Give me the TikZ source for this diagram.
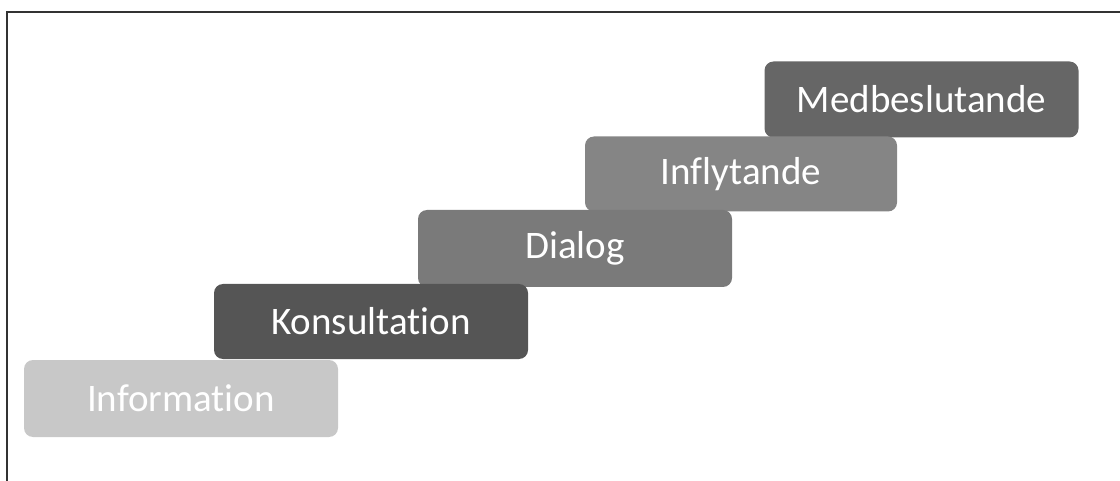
\documentclass[tikz,border=0pt]{standalone}
\usepackage{fontspec}
\setmainfont[Ligatures={NoCommon}]{Carlito}
\definecolor{cinfo}{HTML}{C8C8C8}
\definecolor{ckons}{HTML}{555555}
\definecolor{cdial}{HTML}{7A7A7A}
\definecolor{cinfl}{HTML}{858585}
\definecolor{cmedb}{HTML}{666666}
\definecolor{frame}{HTML}{333333}
\begin{document}
\begin{tikzpicture}[x=1pt,y=-1pt,
  stepbox/.style={rounded corners=9pt, minimum width=314pt, minimum height=76pt,
    inner sep=0pt, text=white, font=\fontsize{39}{44}\selectfont},
  frameline/.style={draw=frame, line width=2.2pt}]
\useasboundingbox (0,0) rectangle (1120,481);
\coordinate (ftl) at (7,12);
\coordinate (ftr) at (1120,12);
\coordinate (fbl) at (7,481);
\draw[frameline] (fbl) -- (ftl) -- (ftr);
\node[stepbox, fill=cmedb] (medb) at (921.5,99.5) {Medbeslutande};
\node[stepbox, fill=cinfl, minimum width=312pt, minimum height=75pt] (infl) at (741,174) {Inflytande};
\node[stepbox, fill=cdial, minimum height=77pt] (dial) at (575,248.5) {Dialog};
\node[stepbox, fill=ckons, minimum height=75pt] (kons) at (371,321.5) {Konsultation};
\node[stepbox, fill=cinfo, minimum height=77pt] (info) at (181,398.5) {Information};
\end{tikzpicture}
\end{document}
